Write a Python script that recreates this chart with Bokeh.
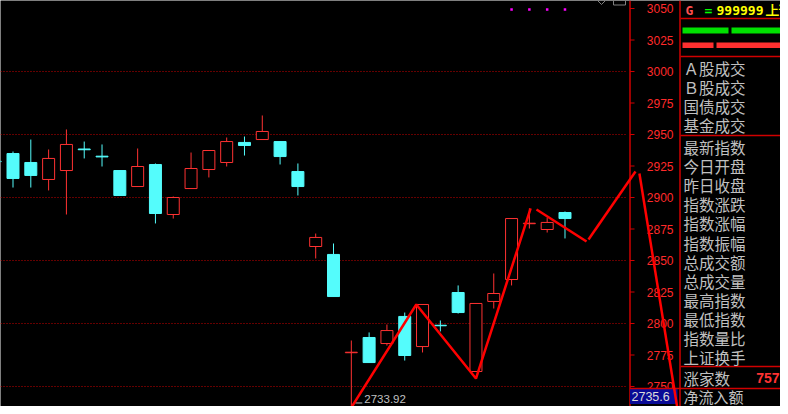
from bokeh.plotting import figure
from bokeh.models import Range1d, ColumnDataSource
from bokeh.core.properties import value
from bokeh.embed import file_html
from bokeh.resources import INLINE

# ---------------- data ----------------
day = list(range(0, 33))
open_ = [2928.8, 2934.9, 2927.8, 2914.3, 2921.4, 2938.5, 2932.8, 2921.4, 2908.7, 2926.2,
         2886.5, 2907.1, 2922.2, 2927.8, 2943.7, 2946.0, 2944.4, 2920.6, 2861.1, 2854.8,
         2776.8, 2788.9, 2784.1, 2805.6, 2781.7, 2798.6, 2824.6, 2761.9, 2817.5, 2834.9,
         2879.2, 2874.6, 2888.1]
high = [2931.0, 2936.5, 2946.0, 2938.1, 2954.0, 2944.4, 2942.1, 2921.4, 2938.9, 2927.0,
        2900.8, 2935.7, 2937.3, 2947.6, 2948.4, 2965.1, 2944.4, 2927.0, 2871.4, 2863.5,
        2786.5, 2792.9, 2799.2, 2808.7, 2815.1, 2802.4, 2830.2, 2815.9, 2839.7, 2883.3,
        2891.3, 2884.1, 2888.9]
low = [2925.0, 2907.9, 2907.9, 2905.6, 2886.5, 2931.0, 2924.6, 2901.6, 2908.7, 2879.4,
       2883.3, 2907.1, 2915.9, 2924.6, 2933.3, 2946.0, 2926.2, 2901.6, 2851.6, 2821.4,
       2733.92, 2769.0, 2782.5, 2770.6, 2777.0, 2793.7, 2807.9, 2761.9, 2811.9, 2830.2,
       2875.4, 2872.2, 2867.5]
close = [2928.4, 2915.1, 2917.5, 2931.0, 2942.1, 2937.9, 2932.2, 2901.6, 2924.6, 2887.3,
         2900.0, 2923.0, 2937.3, 2944.4, 2941.3, 2952.4, 2932.5, 2908.7, 2868.3, 2821.4,
         2777.2, 2769.0, 2794.4, 2774.6, 2815.1, 2798.2, 2808.7, 2815.9, 2823.8, 2883.3,
         2879.6, 2880.2, 2883.3]

# zigzag indicator (vertices)
zz_x = [20, 23.65, 27, 30.07]
zz_y = [2733.3, 2815.1, 2756.3, 2891.3]
# hand-drawn trend lines
draw_x = [[30.40, 33.21], [33.32, 35.96], [36.18, 38.40]]
draw_y = [[2890.5, 2865.1], [2866.7, 2920.6], [2919.0, 2725.0]]
# signal dots at top
sig_x = [29, 30, 31, 32]
sig_y = [3049.2, 3049.2, 3049.2, 3049.2]

low_label = "2733.92"
cur_label = "2735.6"

price_ticks = [2750, 2775, 2800, 2825, 2850, 2875, 2900, 2925, 2950, 2975, 3000, 3025, 3050]
price_labels = [str(t) for t in price_ticks]
grid_levels = [2750, 2800, 2850, 2900, 2950, 3000]

sec1 = ["Ａ股成交", "Ｂ股成交", "国债成交", "基金成交"]
sec2 = ["最新指数", "今日开盘", "昨日收盘", "指数涨跌", "指数涨幅", "指数振幅",
        "总成交额", "总成交量", "最高指数", "最低指数", "指数量比", "上证换手"]
sec3 = ["涨家数"]
sec3_val = ["757"]
sec4 = ["净流入额"]
header = ["G", "=", "999999", "上证"]

# ---------------- styles ----------------
RED = "#ff3232"
CYAN = "#54fcfc"
LINE_RED = "#d00000"
GRID_RED = "#c80000"
GREY = "#c0c0c0"

W, H = 780, 406
SP = 17.806       # pixel spacing of candles
PX_PER_PT = 1.26  # pixels per index point
x_start = 1 - 12.5 / SP
x_end = 1 + (W - 12.5) / SP
y_top = 2750 + 386 / PX_PER_PT
y_bot = 2750 - (H - 386) / PX_PER_PT

p = figure(width=W, height=H, output_backend="svg", toolbar_location=None,
           x_range=Range1d(x_start, x_end), y_range=Range1d(y_bot, y_top),
           x_axis_location=None, y_axis_location=None, min_border=0,
           background_fill_color="black", border_fill_color="black",
           outline_line_color=None)
p.xgrid.visible = False
p.ygrid.visible = False
p.extra_x_ranges = {"px": Range1d(0, W)}
p.extra_y_ranges = {"py": Range1d(H, 0)}

# grid lines (dotted)
p.segment(x0=[0] * len(grid_levels), x1=[627] * len(grid_levels), y0=grid_levels, y1=grid_levels,
          x_range_name="px", line_color=GRID_RED, line_width=1.2, line_dash="1 2")

# candles
bw = 12 / SP
up = dict(x=[], top=[], bot=[], hi=[], lo=[])
dn = dict(x=[], top=[], bot=[], hi=[], lo=[])
for d, o, h, l, c in zip(day, open_, high, low, close):
    tgt = up if c >= o else dn
    tgt["x"].append(d)
    tgt["top"].append(max(o, c))
    tgt["bot"].append(min(o, c))
    tgt["hi"].append(h)
    tgt["lo"].append(l)
sup = ColumnDataSource(up)
sdn = ColumnDataSource(dn)
p.segment(x0="x", x1="x", y0="hi", y1="lo", source=sdn, line_color=CYAN, line_width=1)
p.vbar(x="x", width=bw, top="top", bottom="bot", source=sdn, fill_color=CYAN, line_color=CYAN)
p.segment(x0="x", x1="x", y0="hi", y1="top", source=sup, line_color=RED, line_width=1)
p.segment(x0="x", x1="x", y0="bot", y1="lo", source=sup, line_color=RED, line_width=1)
p.vbar(x="x", width=bw, top="top", bottom="bot", source=sup, fill_color="black", line_color=RED)

# signal dots
p.scatter(x=sig_x, y=sig_y, marker="square", size=2.5, fill_color="#ff00ff", line_color=None)

# low label
lo_i = low.index(min(low))
p.segment(x0=[day[lo_i] + 4 / SP], x1=[day[lo_i] + 11 / SP], y0=[min(low) + 3], y1=[min(low) + 3],
          line_color=GREY, line_width=1)
p.text(x=[day[lo_i]], y=[min(low)], text=[low_label], x_offset=13, y_offset=-4, text_color=GREY,
       text_font=value("Liberation Sans"), text_font_size="11.5px", text_baseline="bottom")

# top icons (UI)
p.line(x=[597, 601, 605], y=[0, 4, 0], x_range_name="px", y_range_name="py", line_color="#808080")
p.quad(left=[613], right=[625], top=[-2], bottom=[4.5], x_range_name="px", y_range_name="py",
       fill_color=None, line_color="#808080")

# price axis
p.segment(x0=[629.5], x1=[629.5], y0=[0], y1=[H], x_range_name="px", y_range_name="py",
          line_color=LINE_RED, line_width=1.5)
n = len(price_ticks)
p.segment(x0=[629.5] * n, x1=[634] * n, y0=price_ticks, y1=price_ticks, x_range_name="px",
          line_color=LINE_RED, line_width=1)
p.text(x=[673] * n, y=price_ticks, text=price_labels, x_range_name="px", text_align="right",
       text_baseline="middle", text_color="#ff2a2a", text_font=value("Liberation Sans"),
       text_font_size="12px")

# current price box
p.quad(left=[629.5], right=[677], top=[388], bottom=[403.5], x_range_name="px", y_range_name="py",
       fill_color="#0a0a96", line_color=None)
p.segment(x0=[629.5], x1=[W], y0=[388], y1=[388], x_range_name="px", y_range_name="py",
          line_color=LINE_RED, line_width=1.5)
p.text(x=[631], y=[396], text=[cur_label], x_range_name="px", y_range_name="py",
       text_color="#dcdcdc", text_font=value("Liberation Sans"), text_font_size="12.5px",
       text_baseline="middle")

# right panel frame
p.segment(x0=[679.5], x1=[679.5], y0=[0], y1=[H], x_range_name="px", y_range_name="py",
          line_color=LINE_RED, line_width=1.5)
hl = [18, 56, 135, 366]
p.segment(x0=[680] * len(hl), x1=[W] * len(hl), y0=hl, y1=hl, x_range_name="px",
          y_range_name="py", line_color=LINE_RED, line_width=1.5)
# indicator bars
p.quad(left=[682, 731], right=[728, W], top=[27, 27], bottom=[33, 33], x_range_name="px",
       y_range_name="py", fill_color="#00e000", line_color=None)
p.quad(left=[682, 716], right=[713, W], top=[42, 42], bottom=[47.5, 47.5], x_range_name="px",
       y_range_name="py", fill_color="#ff3030", line_color=None)

# header
p.text(x=[685, 704, 716, 765], y=[9.5] * 4, text=header, x_range_name="px", y_range_name="py",
       text_color=["#ff5050", "#00ff00", "#ffff00", "#ffff00"],
       text_font=value("DejaVu Sans Mono"), text_font_size="13px", text_font_style="bold",
       text_baseline="alphabetic")

cjk = value("Noto Sans CJK SC")
def rows(labels, y0, step, size="15.5px"):
    ys = [y0 + k * step for k in range(len(labels))]
    p.text(x=[683] * len(labels), y=ys, text=labels, x_range_name="px", y_range_name="py",
           text_color=GREY, text_font=cjk, text_font_size=size, text_baseline="middle")
    return ys

rows(sec1, 67.5, 19.1)
rows(sec2, 146.5, 19.1)
ys3 = rows(sec3, 377, 19.1)
p.text(x=[779], y=ys3, text=sec3_val, x_range_name="px", y_range_name="py", text_color=RED,
       text_font=value("Liberation Sans"), text_font_size="14px", text_font_style="bold",
       text_align="right", text_baseline="middle")
rows(sec4, 396, 19.1, "15px")

# zigzag + drawn lines
p.line(x=zz_x, y=zz_y, line_color="#ff0000", line_width=2.5)
p.multi_line(xs=draw_x, ys=draw_y, line_color="#ff0000", line_width=2.5)

open("out.html", "w").write(file_html(p, INLINE))
